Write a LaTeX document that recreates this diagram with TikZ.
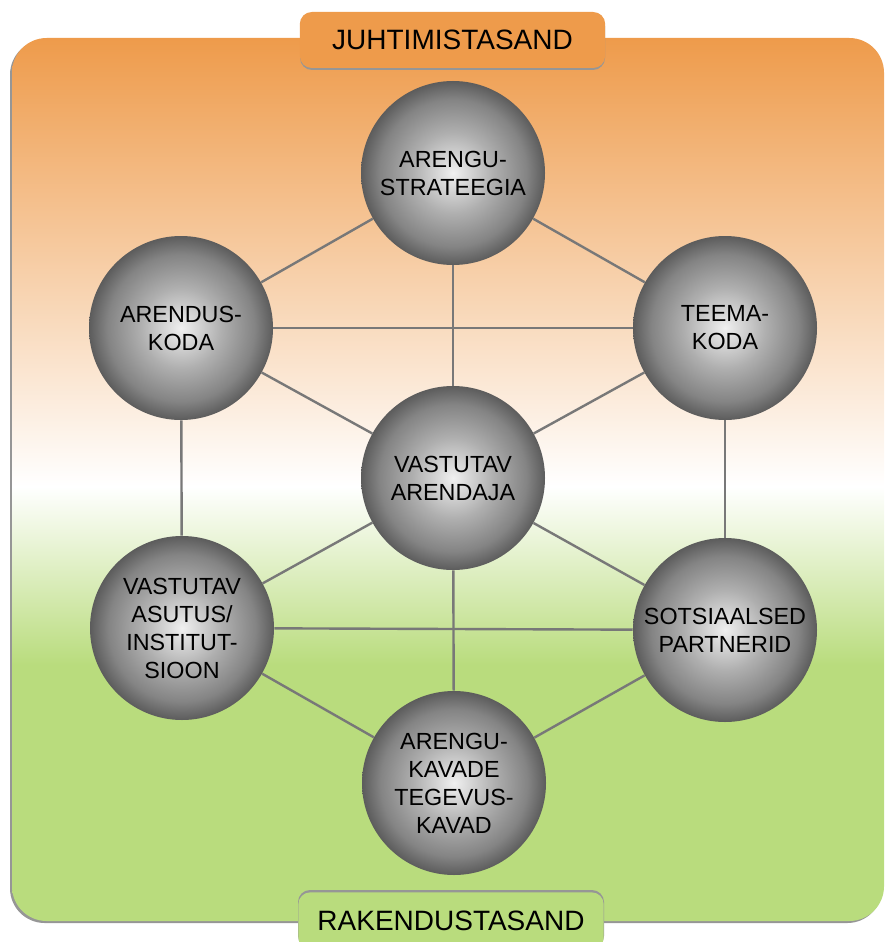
\documentclass[tikz,border=0pt]{standalone}
\usepackage{fontspec}
\setmainfont{Liberation Sans}
\usepackage{xcolor}
\usepackage{tikz}
\definecolor{tierorange}{RGB}{238,155,75}
\definecolor{tiergreen}{RGB}{185,220,125}
\definecolor{linkgray}{RGB}{120,120,120}
\definecolor{shadowgray}{RGB}{150,150,150}
\definecolor{orblight}{RGB}{240,240,240}
\definecolor{orbmid}{RGB}{175,175,175}
\definecolor{orbdeep}{RGB}{132,132,132}
\definecolor{orbdark}{RGB}{92,92,92}
\pgfdeclareverticalshading{tiershade}{100bp}{color(0bp)=(tiergreen); color(39.5bp)=(tiergreen); color(49.6bp)=(white); color(75bp)=(tierorange); color(100bp)=(tierorange)}
\pgfdeclareradialshading{orbshade}{\pgfpoint{0bp}{0bp}}{color(0bp)=(orblight); color(11bp)=(orbmid); color(20bp)=(orbdeep); color(25bp)=(orbdark); color(50bp)=(orbdark)}
\pgfdeclarelayer{bg}
\pgfdeclarelayer{edges}
\pgfsetlayers{bg,edges,main}
\newcommand{\orbfont}{\fontsize{17.5}{21}\selectfont}
\newcommand{\tierfont}{\fontsize{21}{25}\selectfont}

\begin{document}
\begin{tikzpicture}[x=0.75pt,y=-0.75pt]
\tikzstyle{orb}=[circle,shading=orbshade,minimum size=138pt,inner sep=0pt,
                 align=center,text=black,font=\orbfont]
\tikzstyle{tier}=[rectangle,rounded corners=9pt,minimum width=229pt,
                  minimum height=42pt,inner sep=0pt,text=black,font=\tierfont]
\tikzstyle{link}=[line width=1.8pt,linkgray]

\useasboundingbox (0,0) rectangle (886,942);

% --- background ---
\begin{pgfonlayer}{bg}
\fill[shadowgray,rounded corners=26pt] (10,40) rectangle (882,923);
\shade[shading=tiershade,rounded corners=26pt] (12,38) rectangle (884,921);
\fill[shadowgray,rounded corners=9pt] (300,14) rectangle (605,70);
\fill[shadowgray,rounded corners=9pt] (298,890) rectangle (604,948);
\end{pgfonlayer}

% --- tiers ---
\node[tier,fill=tierorange] (govern) at (452.5,40) {JUHTIMISTASAND};
\node[tier,fill=tiergreen,minimum height=43pt] (apply) at (451,921) {RAKENDUSTASAND};

% --- spheres ---
\node[orb] (strategy) at (453,173) {ARENGU-\\STRATEEGIA};
\node[orb] (devhouse) at (181,328) {ARENDUS-\\KODA};
\node[orb] (themehouse) at (725,328) {TEEMA-\\KODA};
\node[orb] (developer) at (453,478) {VASTUTAV\\ARENDAJA};
\node[orb] (institution) at (182,628) {VASTUTAV\\ASUTUS/\\INSTITUT-\\SIOON};
\node[orb] (partners) at (725,630) {SOTSIAALSED\\PARTNERID};
\node[orb] (plans) at (454,783) {ARENGU-\\KAVADE\\TEGEVUS-\\KAVAD};

% --- links ---
\begin{pgfonlayer}{edges}
\draw[link] (strategy) -- (devhouse);
\draw[link] (strategy) -- (themehouse);
\draw[link] (strategy) -- (developer);
\draw[link] (devhouse) -- (themehouse);
\draw[link] (devhouse) -- (developer);
\draw[link] (themehouse) -- (developer);
\draw[link] (devhouse) -- (institution);
\draw[link] (themehouse) -- (partners);
\draw[link] (developer) -- (institution);
\draw[link] (developer) -- (partners);
\draw[link] (developer) -- (plans);
\draw[link] (institution) -- (partners);
\draw[link] (institution) -- (plans);
\draw[link] (partners) -- (plans);
\end{pgfonlayer}

\end{tikzpicture}
\end{document}
